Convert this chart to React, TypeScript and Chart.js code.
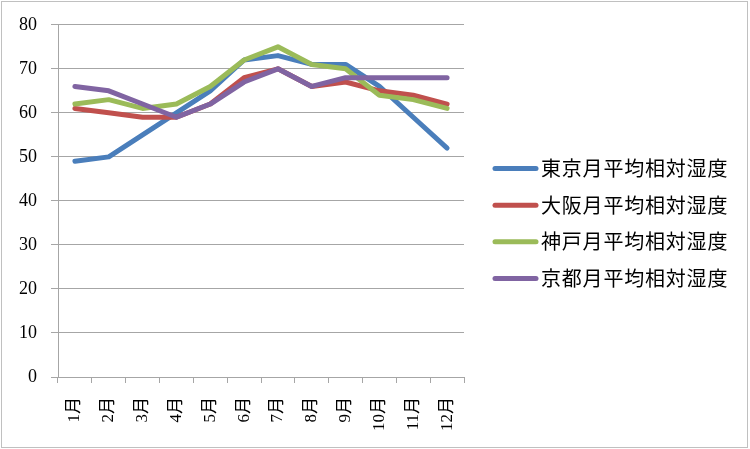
import React, { useEffect, useRef } from 'react';
import Chart from 'chart.js/auto';

const months = ['1月', '2月', '3月', '4月', '5月', '6月', '7月', '8月', '9月', '10月', '11月', '12月'];

const tokyo = [49, 50, 55, 60, 65, 72, 73, 71, 71, 66, 59, 52];
const osaka = [61, 60, 59, 59, 62, 68, 70, 66, 67, 65, 64, 62];
const kobe = [62, 63, 61, 62, 66, 72, 75, 71, 70, 64, 63, 61];
const kyoto = [66, 65, 62, 59, 62, 67, 70, 66, 68, 68, 68, 68];

const seriesNames = ['東京月平均相対湿度', '大阪月平均相対湿度', '神戸月平均相対湿度', '京都月平均相対湿度'];
const seriesColors = ['#4a7ebb', '#c0504d', '#9bbb59', '#8064a2'];

const serif = "'Liberation Serif', 'Noto Sans CJK JP', serif";
const gothic = "'Noto Sans CJK JP', 'Noto Sans', sans-serif";
const gridGray = '#a6a6a6';

// outer frame like the spreadsheet chart area
const framePlugin = {
  id: 'frame',
  afterDraw(chart: Chart) {
    const ctx = chart.ctx;
    ctx.save();
    ctx.strokeStyle = '#c0c0c0';
    ctx.lineWidth = 1;
    ctx.strokeRect(1.5, 1.5, chart.width - 4, chart.height - 3);
    ctx.restore();
  },
};

// the built-in legend gets squeezed on the right, so draw the entries here
const sideLegendPlugin = {
  id: 'sideLegend',
  afterDraw(chart: Chart) {
    const ctx = chart.ctx;
    const area = chart.chartArea;
    const sets = chart.data.datasets;
    const rowGap = 36.7;
    const midY = chart.height / 2 - 1;
    const lineX = area.right + 31;
    ctx.save();
    ctx.font = `20px ${gothic}`;
    (ctx as any).letterSpacing = '0.8px';
    ctx.textBaseline = 'middle';
    ctx.textAlign = 'left';
    sets.forEach((ds, i) => {
      const y = midY + (i - (sets.length - 1) / 2) * rowGap;
      ctx.strokeStyle = ds.borderColor as string;
      ctx.lineWidth = 5;
      ctx.lineCap = 'round';
      ctx.beginPath();
      ctx.moveTo(lineX, y);
      ctx.lineTo(lineX + 41, y);
      ctx.stroke();
      ctx.fillStyle = '#000';
      ctx.fillText(ds.label || '', lineX + 46, y);
    });
    ctx.restore();
  },
};

export default function App() {
  const chartRef = useRef<HTMLCanvasElement>(null);
  const chartInstance = useRef<Chart | null>(null);

  useEffect(() => {
    document.body.style.margin = '0';
    if (!chartRef.current) return;
    if (chartInstance.current) {
      chartInstance.current.destroy();
    }
    const ctx = chartRef.current.getContext('2d');
    if (!ctx) return;

    const values = [tokyo, osaka, kobe, kyoto];

    chartInstance.current = new Chart(ctx, {
      type: 'line',
      data: {
        labels: months,
        datasets: values.map((v, i) => ({
          label: seriesNames[i],
          data: v,
          borderColor: seriesColors[i],
          backgroundColor: seriesColors[i],
          borderWidth: 5,
          borderCapStyle: 'round' as const,
          borderJoinStyle: 'round' as const,
          pointRadius: 0,
          tension: 0,
          order: 4 - i,
        })),
      },
      options: {
        responsive: true,
        maintainAspectRatio: false,
        animation: false,
        layout: {
          padding: { left: 5, top: 11, bottom: 4, right: 286 },
        },
        plugins: {
          tooltip: { enabled: false },
          legend: { display: false },
        },
        scales: {
          x: {
            offset: true,
            grid: {
              offset: true,
              drawOnChartArea: false,
              drawTicks: true,
              tickLength: 6,
              color: gridGray,
            },
            border: { display: true, color: gridGray },
            ticks: {
              minRotation: 90,
              maxRotation: 90,
              padding: 14,
              color: '#000',
              font: { family: serif, size: 17 },
            },
          },
          y: {
            min: 0,
            max: 80,
            grid: { color: gridGray, tickLength: 7 },
            border: { display: true, color: gridGray },
            ticks: {
              stepSize: 10,
              padding: 14,
              color: '#000',
              font: { family: serif, size: 18 },
            },
          },
        },
      },
      plugins: [framePlugin, sideLegendPlugin],
    });

    return () => {
      if (chartInstance.current) {
        chartInstance.current.destroy();
        chartInstance.current = null;
      }
    };
  }, []);

  return (
    <div style={{ width: 750, height: 449, position: 'relative' }}>
      <canvas ref={chartRef}></canvas>
    </div>
  );
}
